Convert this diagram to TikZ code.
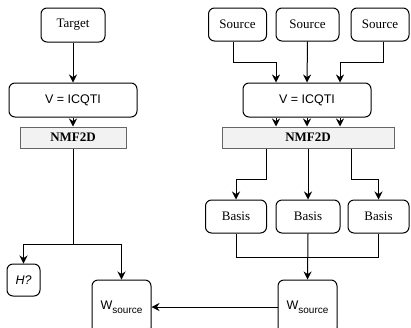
\documentclass[tikz,border=0pt]{standalone}
\usepackage{fontspec}
\setmainfont{Liberation Serif}
\newfontfamily\arialfont{Liberation Sans}
\usetikzlibrary{arrows.meta}
\newcommand{\wsrc}{W\raisebox{-3.5pt}{\fontsize{10}{12}\selectfont source}}
\begin{document}
\begin{tikzpicture}[x=1pt, y=-1pt,
		box/.style={draw, rounded corners=6pt, line width=1pt, inner sep=0pt, font=\fontsize{13}{15}\selectfont},
		sbox/.style={box, font=\arialfont\fontsize{12.5}{15}\selectfont},
		nmf/.style={draw=black!60, fill=black!5, line width=1pt, inner sep=0pt, font=\bfseries\fontsize{13}{15}\selectfont},
		arr/.style={line width=1pt, -{Stealth[length=8pt, width=8pt]}},
		ln/.style={line width=1pt}]
		\useasboundingbox (0,0) rectangle (411,327);
		
		\node[box, minimum width=64pt, minimum height=34pt] (target) at (73,25) {Target};
		\node[sbox, minimum width=128pt, minimum height=34pt] (vL) at (73,100) {V = ICQTI};
		\node[nmf, minimum width=106pt, minimum height=21pt] (nmfL) at (73,137.5) {NMF2D};
		\node[sbox, minimum width=33pt, minimum height=32pt, font=\arialfont\itshape\fontsize{12.5}{15}\selectfont] (hq) at (23.5,280) {H?};
		\node[sbox, minimum width=59pt, minimum height=54pt] (wL) at (121.5,307) {\wsrc};
		
		\node[box, minimum width=58pt, minimum height=33pt] (src1) at (237.5,24.5) {Source};
		\node[box, minimum width=63pt, minimum height=33pt] (src2) at (307.5,24.5) {Source};
		\node[box, minimum width=58pt, minimum height=33pt] (src3) at (380,24.5) {Source};
		\node[sbox, minimum width=128pt, minimum height=34pt] (vR) at (307,100) {V = ICQTI};
		\node[nmf, minimum width=172pt, minimum height=21pt] (nmfR) at (308,137.5) {NMF2D};
		\node[box, minimum width=61pt, minimum height=33pt] (basis1) at (236,216.5) {Basis};
		\node[box, minimum width=64pt, minimum height=33pt] (basis2) at (308,216.5) {Basis};
		\node[box, minimum width=61pt, minimum height=33pt] (basis3) at (378.5,216.5) {Basis};
		\node[sbox, minimum width=59pt, minimum height=54pt] (wR) at (307.5,307) {\wsrc};
		
		\draw[arr] (target) -- (vL);
		\draw[arr] (vL) -- (nmfL);
		\draw[ln] (nmfL.south) -- ++(0,95.5) coordinate (split);
		\draw[arr] (split) -| (hq.north);
		\draw[arr] (split) -| (wL.north);
		
		\draw[arr] ([xshift=-4.5pt]src1.south) -- ++(0,21) -| ([xshift=-31pt]vR.north);
		\draw[arr] (src2.south) -- (vR.north);
		\draw[arr] ([xshift=3pt]src3.south) -- ++(0,21) -| ([xshift=33pt]vR.north);
		\draw[arr] ([xshift=-31pt]vR.south) -- ([xshift=-31pt]vR.south |- nmfR.north);
		\draw[arr] (vR.south) -- (vR.south |- nmfR.north);
		\draw[arr] ([xshift=33pt]vR.south) -- ([xshift=33pt]vR.south |- nmfR.north);
		\draw[arr] ([xshift=-42pt]nmfR.south) -- ++(0,31) -| (basis1.north);
		\draw[arr] (nmfR.south) -- (basis2.north);
		\draw[arr] ([xshift=43pt]nmfR.south) -- ++(0,31) -| (basis3.north);
		\draw[ln] (basis1.south) -- ++(0,24) -| (basis3.south);
		\draw[arr] (basis2.south) -- (wR.north);
		\draw[arr] (wR.west) -- (wL.east);
	\end{tikzpicture}
\end{document}
